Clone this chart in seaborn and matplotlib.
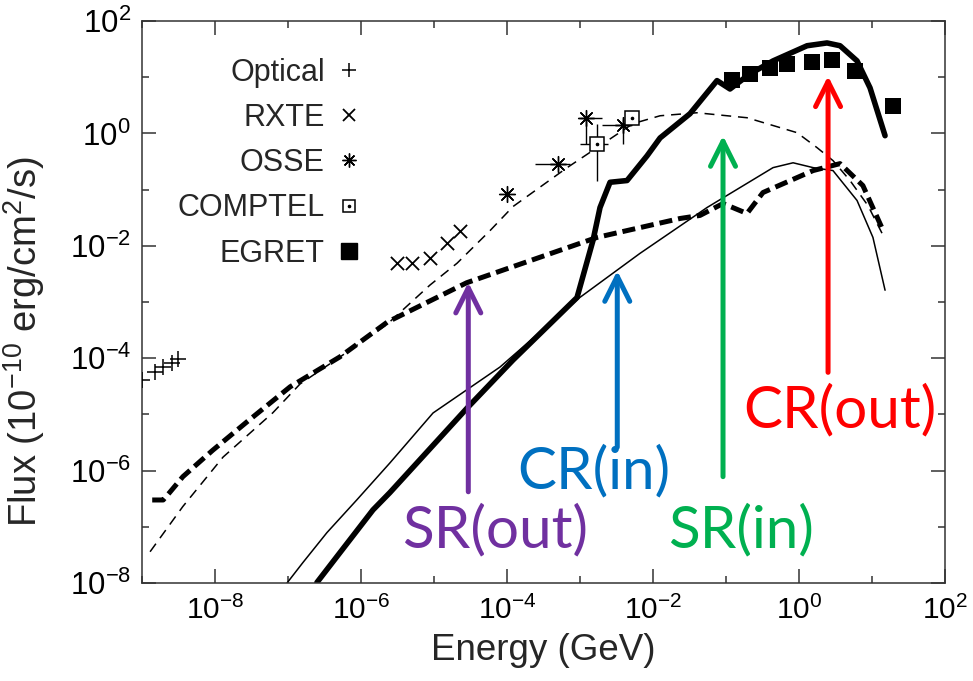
import numpy as np
import pandas as pd
import matplotlib
matplotlib.use("Agg")
import matplotlib.pyplot as plt
import matplotlib.ticker as mticker
from matplotlib.lines import Line2D
from matplotlib.legend_handler import HandlerTuple
import seaborn as sns

# ---------------- data ----------------
# Model curves: Energy (GeV) and Flux (1e-10 erg/cm^2/s)
sr_out_E = [1.38e-9, 1.95e-9, 2.4e-9, 3.63e-9, 9.3e-9, 2.75e-8, 1.07e-7, 5.1e-7,
            2.3e-6, 2.8e-5, 1.71e-3, 2.34e-2, 4.4e-2, 9.1e-2, 0.194, 0.321, 1.56,
            3.65, 7.5, 14.2]
sr_out_F = [3.0e-7, 3.0e-7, 4.1e-7, 7.8e-7, 2.3e-6, 7.4e-6, 3.1e-5, 1.05e-4,
            4.4e-4, 2.2e-3, 1.41e-2, 3.06e-2, 3.47e-2, 5.65e-2, 3.76e-2, 8.87e-2,
            0.218, 0.29, 0.118, 0.0187]

sr_in_E = [1.29e-9, 3.63e-9, 1.29e-8, 6.2e-8, 1.46e-7, 5.15e-7, 2.27e-6, 8.8e-6,
           2.07e-5, 5.85e-5, 1.21e-4, 6.64e-4, 1.71e-3, 5.3e-3, 1.25e-2, 0.040,
           0.194, 0.94, 1.77, 2.93, 5.0, 8.8, 14.2]
sr_in_F = [3.6e-8, 2.3e-7, 1.74e-6, 1.07e-5, 3.47e-5, 1.05e-4, 4.0e-4, 2.0e-3,
           4.9e-3, 1.86e-2, 5.0e-2, 0.245, 0.557, 1.49, 2.06, 2.33, 1.90, 1.03,
           0.557, 0.327, 0.145, 0.052, 0.0153]

cr_in_E = [9.7e-8, 1.6e-7, 3.42e-7, 8.8e-7, 2.49e-6, 9.7e-6, 8.0e-5, 1.0e-3,
           6.6e-3, 0.055, 0.441, 0.83, 1.56, 2.92, 6.24, 10.3, 15.1]
cr_in_F = [1.0e-8, 2.31e-8, 7.9e-8, 3.03e-7, 1.37e-6, 1.06e-5, 6.95e-5, 1.21e-3,
           7.3e-3, 0.048, 0.246, 0.30, 0.246, 0.218, 0.064, 0.0141, 1.62e-3]

cr_out_E = [2.49e-7, 5.15e-7, 1.46e-6, 2.49e-6, 2.83e-5, 1.21e-4, 9.1e-4, 1.51e-3,
            1.88e-3, 2.58e-3, 4.41e-3, 8.28e-3, 1.25e-2, 3.21e-2, 7.53e-2, 0.1135,
            0.213, 0.441, 1.29, 2.42, 3.65, 6.24, 9.4, 15.1]
cr_out_F = [1.02e-8, 3.47e-8, 2.0e-7, 4.07e-7, 1.29e-5, 9.3e-5, 1.2e-3, 1.26e-2,
            4.79e-2, 0.135, 0.145, 0.398, 0.83, 2.24, 8.7, 6.17, 11.5, 19.5, 36.3,
            40.7, 36.3, 19.5, 6.46, 0.91]

# Observations
optical_E = [1.0e-9, 1.51e-9, 1.94e-9, 2.58e-9, 3.11e-9]
optical_F = [4.1e-5, 5.7e-5, 6.95e-5, 8.2e-5, 9.6e-5]

rxte_E = [3.11e-6, 5.0e-6, 8.8e-6, 1.51e-5, 2.27e-5]
rxte_F = [4.9e-3, 4.9e-3, 6.0e-3, 1.1e-2, 1.87e-2]

osse_E = [1.0e-4, 5.0e-4, 1.21e-3, 3.9e-3]
osse_F = [0.085, 0.29, 1.9, 1.43]
osse_E_lo = [1.0e-4, 2.4e-4, 1.0e-3, 2.0e-3]
osse_E_hi = [1.0e-4, 7.2e-4, 2.0e-3, 5.1e-3]
osse_F_lo = [0.085, 0.29, 0.66, 0.66]
osse_F_hi = [0.085, 0.29, 1.9, 1.82]

comptel_E = [1.71e-3, 5.15e-3]
comptel_F = [0.66, 1.9]
comptel_E_lo = [1.0e-3, 5.15e-3]
comptel_E_hi = [2.42e-3, 5.15e-3]
comptel_F_lo = [0.145, 1.9]
comptel_F_hi = [1.49, 1.9]

egret_E = [0.121, 0.213, 0.40, 0.685, 1.51, 2.83, 5.85, 19.4]
egret_F = [8.97, 11.5, 14.7, 17.3, 18.7, 20.3, 13.0, 3.1]

legend_labels = ["Optical", "RXTE", "OSSE", "COMPTEL", "EGRET"]

# Coloured annotations: label, colour, text position, arrow x, arrow tail, arrow tip
ann_labels = ["SR(out)", "CR(in)", "SR(in)", "CR(out)"]
ann_colors = ["#7030A0", "#0070C0", "#00B050", "#FF0000"]
ann_text_E = [6.9e-5, 1.55e-3, 0.16, 3.63]
ann_text_F = [4.3e-8, 4.9e-7, 4.3e-8, 5.75e-6]
ann_arrow_E = [2.95e-5, 3.24e-3, 0.091, 2.5]
ann_arrow_tail = [4.2e-7, 2.6e-6, 7.8e-7, 5.6e-5]
ann_arrow_tip = [2.24e-3, 3.6e-3, 0.91, 10.5]

x_major = [1e-8, 1e-6, 1e-4, 1e-2, 1e0, 1e2]
x_minor = [1e-9, 1e-7, 1e-5, 1e-3, 1e-1, 1e1]
y_major = [1e-8, 1e-6, 1e-4, 1e-2, 1e0, 1e2]
y_minor = [1e-7, 1e-5, 1e-3, 1e-1, 1e1]

# ---------------- style ----------------
sns.set_style("ticks")
plt.rcParams['font.family'] = ['Liberation Sans', 'DejaVu Sans']
plt.rcParams['mathtext.fontset'] = 'custom'
plt.rcParams['mathtext.rm'] = 'Liberation Sans'
plt.rcParams['mathtext.it'] = 'Liberation Sans:italic'
plt.rcParams['mathtext.bf'] = 'Liberation Sans:bold'
plt.rcParams['axes.unicode_minus'] = False

fig = plt.figure(figsize=(9.73, 6.81), dpi=100)
fig.patch.set_facecolor("white")
ax = fig.add_axes([142 / 973, 1 - 583 / 681, (945 - 142) / 973, (583 - 21) / 681])
ax.set_xscale("log")
ax.set_yscale("log")
ax.set_xlim(1e-9, 1e2)
ax.set_ylim(1e-8, 1e2)

# model curves
sns.lineplot(x=sr_out_E, y=sr_out_F, ax=ax, color="black", lw=3.6,
             linestyle=(0, (2.6, 1.2)), estimator=None, sort=False)
sns.lineplot(x=sr_in_E, y=sr_in_F, ax=ax, color="black", lw=1.1,
             linestyle=(0, (6.5, 4.5)), estimator=None, sort=False)
sns.lineplot(x=cr_in_E, y=cr_in_F, ax=ax, color="black", lw=1.1,
             estimator=None, sort=False)
sns.lineplot(x=cr_out_E, y=cr_out_F, ax=ax, color="black", lw=4.0,
             estimator=None, sort=False)

# observations
sns.scatterplot(x=optical_E, y=optical_F, ax=ax, marker="+", s=120,
                color="black", linewidth=1.1, zorder=5)
sns.scatterplot(x=rxte_E, y=rxte_F, ax=ax, marker="x", s=90,
                color="black", linewidth=1.3, zorder=5)

osse_E_a = np.array(osse_E); osse_F_a = np.array(osse_F)
ax.errorbar(osse_E_a, osse_F_a,
            xerr=[osse_E_a - np.array(osse_E_lo), np.array(osse_E_hi) - osse_E_a],
            yerr=[osse_F_a - np.array(osse_F_lo), np.array(osse_F_hi) - osse_F_a],
            fmt="none", ecolor="black", elinewidth=1.0, capsize=0, zorder=4)
sns.scatterplot(x=osse_E, y=osse_F, ax=ax, marker=(8, 2, 0), s=130,
                color="black", linewidth=1.0, zorder=5)

comptel_E_a = np.array(comptel_E); comptel_F_a = np.array(comptel_F)
ax.errorbar(comptel_E_a, comptel_F_a,
            xerr=[comptel_E_a - np.array(comptel_E_lo), np.array(comptel_E_hi) - comptel_E_a],
            yerr=[comptel_F_a - np.array(comptel_F_lo), np.array(comptel_F_hi) - comptel_F_a],
            fmt="none", ecolor="black", elinewidth=1.0, capsize=0, zorder=4)
ax.plot(comptel_E, comptel_F, ls="none", marker="s", ms=9.5, mfc="white",
        mec="black", mew=1.1, zorder=5)
ax.plot(comptel_E, comptel_F, ls="none", marker="o", ms=1.6, mfc="black",
        mec="black", zorder=6)

sns.scatterplot(x=egret_E, y=egret_F, ax=ax, marker="s", s=125,
                color="black", linewidth=0, zorder=5)

# legend (proxy handles)
h_opt = Line2D([], [], ls="none", marker="+", ms=10, mew=1.1, color="black")
h_rxte = Line2D([], [], ls="none", marker="x", ms=8, mew=1.3, color="black")
h_osse = Line2D([], [], ls="none", marker=(8, 2, 0), ms=10, mew=1.0, color="black")
h_comp_sq = Line2D([], [], ls="none", marker="s", ms=9, mfc="white", mec="black", mew=1.1)
h_comp_dot = Line2D([], [], ls="none", marker="o", ms=1.6, mfc="black", mec="black")
h_egret = Line2D([], [], ls="none", marker="s", ms=11, mfc="black", mec="black")
leg = ax.legend([h_opt, h_rxte, h_osse, (h_comp_sq, h_comp_dot), h_egret], legend_labels,
                handler_map={tuple: HandlerTuple(ndivide=1, pad=0)},
                loc="upper right", bbox_to_anchor=(0.275, 0.935), markerfirst=False,
                frameon=False, fontsize=22, handlelength=0.9, handletextpad=0.35,
                labelspacing=0.5, borderaxespad=0, borderpad=0)

# coloured annotations
for lab, col, tx, ty, axx, tail, tip in zip(ann_labels, ann_colors, ann_text_E, ann_text_F,
                                           ann_arrow_E, ann_arrow_tail, ann_arrow_tip):
    ax.annotate("", xy=(axx, tip), xytext=(axx, tail),
                arrowprops=dict(arrowstyle="->,head_length=0.9,head_width=0.45",
                                color=col, lw=3.6, shrinkA=0, shrinkB=0,
                                mutation_scale=20),
                zorder=7)
    ax.text(tx, ty, lab, color=col, fontsize=42, family=["Lato", "DejaVu Sans"],
            ha="center", va="baseline", zorder=8)

# axes / ticks
ax.xaxis.set_major_locator(mticker.FixedLocator(x_major))
ax.xaxis.set_minor_locator(mticker.FixedLocator(x_minor))
ax.yaxis.set_major_locator(mticker.FixedLocator(y_major))
ax.yaxis.set_minor_locator(mticker.FixedLocator(y_minor))
ax.xaxis.set_major_formatter(mticker.LogFormatterSciNotation(base=10))
ax.yaxis.set_major_formatter(mticker.LogFormatterSciNotation(base=10))
ax.xaxis.set_minor_formatter(mticker.NullFormatter())
ax.yaxis.set_minor_formatter(mticker.NullFormatter())
ax.tick_params(which="both", direction="in", top=True, right=True, color="#333333",
               width=1.1)
ax.tick_params(which="major", length=10, labelsize=21.5, pad=9, labelcolor="black")
ax.tick_params(axis="y", which="major", labelsize=22.5, pad=8)
ax.tick_params(which="minor", length=5)
for sp in ax.spines.values():
    sp.set_visible(True)
    sp.set_color("#333333")
    sp.set_linewidth(1.1)

ax.set_xlabel("Energy (GeV)", fontsize=26.5, labelpad=6)
ax.set_ylabel(r"Flux (10$^{-10}$ erg/cm$^{2}$/s)", fontsize=27.5)
ax.yaxis.set_label_coords(-0.118, 0.43)

fig.savefig("out.png", dpi=100, facecolor="white")
